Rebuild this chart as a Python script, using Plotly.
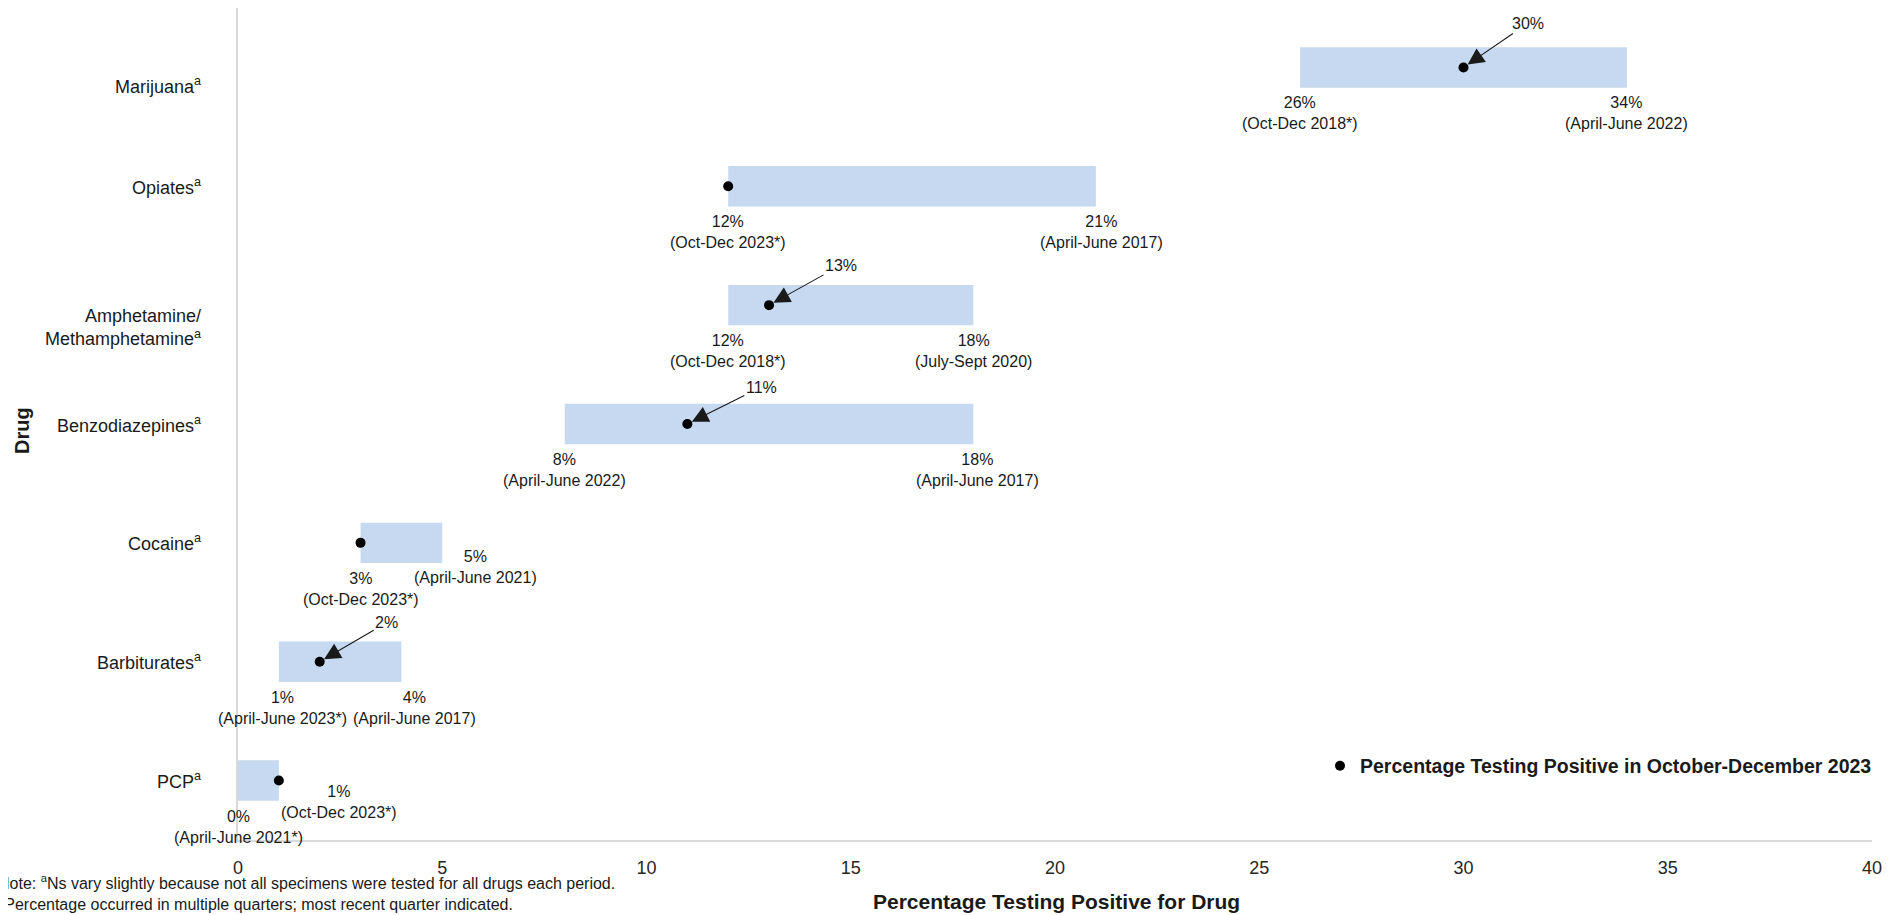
import plotly.graph_objects as go

# ---------------- data ----------------
drugs = ["Marijuana", "Opiates", "Amphetamine/Methamphetamine", "Benzodiazepines",
         "Cocaine", "Barbiturates", "PCP"]
drug_labels = ["Marijuana<sup>a</sup>", "Opiates<sup>a</sup>",
               "Amphetamine/<br>Methamphetamine<sup>a</sup>", "Benzodiazepines<sup>a</sup>",
               "Cocaine<sup>a</sup>", "Barbiturates<sup>a</sup>", "PCP<sup>a</sup>"]
min_pct = [26, 12, 12, 8, 3, 1, 0]
max_pct = [34, 21, 18, 18, 5, 4, 1]
current_pct = [30, 12, 13, 11, 3, 2, 1]
min_quarter = ["(Oct-Dec 2018*)", "(Oct-Dec 2023*)", "(Oct-Dec 2018*)", "(April-June 2022)",
               "(Oct-Dec 2023*)", "(April-June 2023*)", "(April-June 2021*)"]
max_quarter = ["(April-June 2022)", "(April-June 2017)", "(July-Sept 2020)", "(April-June 2017)",
               "(April-June 2021)", "(April-June 2017)", "(Oct-Dec 2023*)"]
x_ticks = [0, 5, 10, 15, 20, 25, 30, 35, 40]
legend_name = "Percentage Testing Positive in October-December 2023"
x_title = "Percentage Testing Positive for Drug"
y_title = "Drug"
note_text = ("Note: <sup>a</sup>Ns vary slightly because not all specimens were tested for all drugs each period.<br>"
             "*Percentage occurred in multiple quarters; most recent quarter indicated.")

# ---------------- layout geometry (page body has an 8px margin) ----------------
FONT = "Liberation Sans, Arial, sans-serif"
W, H = 1896, 907
ML, MR, MT, MB = 230, 32, 0, 75
PW = W - ML - MR
PH = H - MT - MB


def px_x(p):
    return (p - ML) / PW


def px_y(p):
    return (H - MB - p) / PH


cat_label_yshift = {"Marijuana": -18, "Amphetamine/Methamphetamine": -22}
max_label_shift = {"Opiates": (6, 0), "Cocaine": (33, 22), "Barbiturates": (13, 0), "PCP": (60, 25),
                   "Benzodiazepines": (4, 0)}
min_label_shift = {"Barbiturates": (4, 0)}
arrow_offsets = {"Marijuana": (64, -44), "Amphetamine/Methamphetamine": (72, -40),
                 "Benzodiazepines": (74, -37), "Barbiturates": (67, -39)}

fig = go.Figure()
fig.add_trace(go.Bar(
    y=drugs, x=[mx - mn for mn, mx in zip(min_pct, max_pct)], base=min_pct,
    orientation="h", width=0.34, marker=dict(color="#C6D9F1", line=dict(width=0)),
    showlegend=False, hoverinfo="skip"))
fig.add_trace(go.Scatter(
    y=drugs, x=current_pct, mode="markers", name=legend_name,
    marker=dict(color="black", size=10)))

TXT = "#1a1a1a"
ann = []
for i, d in enumerate(drugs):
    ann.append(dict(x=0, xref="paper", y=d, yref="y", text=drug_labels[i], showarrow=False,
                    xanchor="right", yanchor="middle", align="right", xshift=-35,
                    yshift=cat_label_yshift.get(d, 0), font=dict(size=18, color=TXT)))
    dx, dy = min_label_shift.get(d, (0, 0))
    ann.append(dict(x=min_pct[i], y=d, text=f"{min_pct[i]}%<br>{min_quarter[i]}", showarrow=False,
                    xanchor="center", yanchor="top", align="center", xshift=dx, yshift=-25 + dy,
                    font=dict(size=16, color=TXT)))
    dx, dy = max_label_shift.get(d, (0, 0))
    ann.append(dict(x=max_pct[i], y=d, text=f"{max_pct[i]}%<br>{max_quarter[i]}", showarrow=False,
                    xanchor="center", yanchor="top", align="center", xshift=dx, yshift=-25 + dy,
                    font=dict(size=16, color=TXT)))
    if min_pct[i] < current_pct[i] < max_pct[i]:
        ax, ay = arrow_offsets.get(d, (72, -40))
        ann.append(dict(x=current_pct[i], y=d, text=f"{current_pct[i]}%", showarrow=True,
                        ax=ax, ay=ay, arrowhead=2, arrowsize=3.0, arrowwidth=1.1,
                        arrowcolor=TXT, standoff=5, font=dict(size=16, color=TXT)))

ann.append(dict(x=px_x(14), xref="paper", y=px_y(423), yref="paper",
                text=f"<b>{y_title}</b>", textangle=-90, showarrow=False,
                xanchor="center", yanchor="middle", font=dict(size=20, color=TXT)))
ann.append(dict(x=px_x(1048), xref="paper", y=px_y(893), yref="paper",
                text=f"<b>{x_title}</b>", showarrow=False,
                xanchor="center", yanchor="middle", font=dict(size=21, color=TXT)))
ann.append(dict(x=px_x(-12), xref="paper", y=px_y(862), yref="paper",
                text=note_text, showarrow=False, xanchor="left", yanchor="top", align="left",
                font=dict(size=16, color=TXT)))

fig.update_layout(
    template="none", width=W, height=H,
    margin=dict(l=ML, r=MR, t=MT, b=MB, pad=0),
    paper_bgcolor="white", plot_bgcolor="white",
    font=dict(family=FONT, color=TXT),
    xaxis=dict(range=[0, 40], tickvals=x_ticks, showgrid=False, zeroline=False,
               showline=True, linecolor="#D9D9D9", linewidth=2, ticks="",
               tickfont=dict(size=18, color="#262626"), ticklabelstandoff=10),
    yaxis=dict(type="category", categoryorder="array", categoryarray=drugs, range=[6.5, -0.5],
               showgrid=False, zeroline=False, showline=True, linecolor="#D9D9D9", linewidth=2,
               showticklabels=False, ticks=""),
    legend=dict(x=px_x(1869), xanchor="right", y=px_y(758), yanchor="middle",
                font=dict(size=19.5, color=TXT, weight="bold"), bgcolor="rgba(0,0,0,0)",
                itemwidth=30),
    annotations=ann,
    showlegend=True,
)

fig.write_html("out.html")
